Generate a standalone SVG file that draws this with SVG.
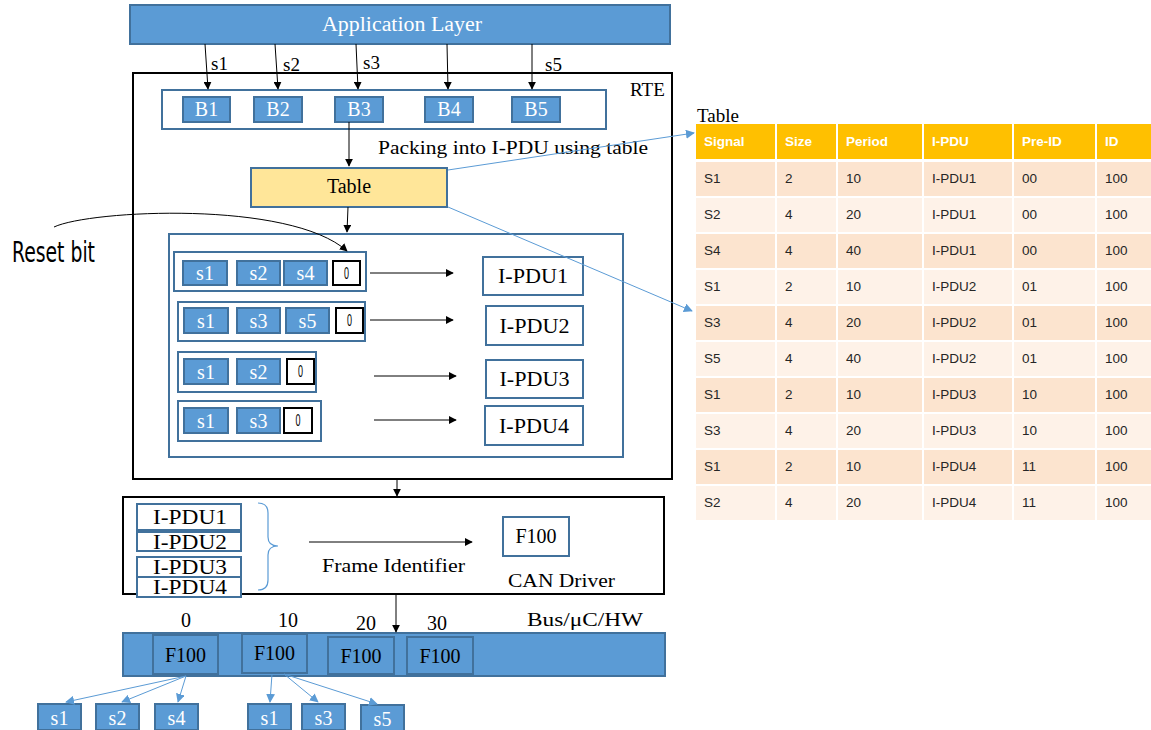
<svg xmlns="http://www.w3.org/2000/svg" width="1151" height="730" viewBox="0 0 1151 730">
  <defs>
    <marker id="ah" viewBox="0 0 10 10" refX="9" refY="5" markerWidth="8" markerHeight="8" markerUnits="userSpaceOnUse" orient="auto">
      <path d="M0,0 L10,5 L0,10 Z" fill="#000"/>
    </marker>
    <marker id="ahb" viewBox="0 0 10 10" refX="9" refY="5" markerWidth="9" markerHeight="9" markerUnits="userSpaceOnUse" orient="auto">
      <path d="M0,0 L10,5 L0,10 Z" fill="#5B9BD5"/>
    </marker>
    <style>
      .blue { fill: #5B9BD5; stroke: #41719C; stroke-width: 2; }
      .outline { fill: #fff; stroke: #41719C; stroke-width: 2; }
      .reset { fill: #fff; stroke: #000; stroke-width: 2; }
      .wt { font-family: "Liberation Serif", "DejaVu Serif", serif; font-size: 20px; fill: #fff; text-anchor: middle; }
      .bt { font-family: "Liberation Serif", "DejaVu Serif", serif; font-size: 20px; fill: #000; text-anchor: middle; }
      .lt { font-family: "Liberation Serif", "DejaVu Serif", serif; font-size: 19px; fill: #000; }
      .bit { font-family: "Liberation Sans", sans-serif; font-size: 17px; fill: #000; text-anchor: middle; }
      .conn { stroke: #000; stroke-width: 1; fill: none; }
      .bconn { stroke: #5B9BD5; stroke-width: 1; fill: none; }
      .th { font-family: "Liberation Sans", Arial, sans-serif; font-size: 13.5px; font-weight: bold; fill: #fff; }
      .td { font-family: "Liberation Sans", Arial, sans-serif; font-size: 13.5px; fill: #262626; }
      .hdr { fill: #FFC000; }
      .odd { fill: #FCE4CF; }
      .even { fill: #FEF2E8; }
    </style>
  </defs>

  <!-- Application layer -->
  <g id="app-layer">
    <rect x="130" y="5" width="540" height="39" class="blue"/>
    <text x="402" y="31" class="wt" font-size="21" textLength="160" lengthAdjust="spacingAndGlyphs">Application Layer</text>
  </g>

  <!-- RTE block -->
  <g id="rte">
    <rect x="133" y="73" width="539" height="406" fill="#fff" stroke="#000" stroke-width="2"/>
    <text x="630" y="96" class="lt">RTE</text>
  </g>

  <g id="buffers">
    <rect x="162" y="90" width="444" height="39" class="outline"/>
    <rect x="183" y="97" width="47" height="25" class="blue"/>
    <text x="206.5" y="116" class="wt">B1</text>
    <rect x="254" y="97" width="48" height="25" class="blue"/>
    <text x="278" y="116" class="wt">B2</text>
    <rect x="335" y="97" width="48" height="25" class="blue"/>
    <text x="359" y="116" class="wt">B3</text>
    <rect x="425" y="97" width="48" height="25" class="blue"/>
    <text x="449" y="116" class="wt">B4</text>
    <rect x="512" y="97" width="48" height="25" class="blue"/>
    <text x="536" y="116" class="wt">B5</text>
  </g>

  <g id="packing-label">
    <text x="378" y="154" class="lt" textLength="270" lengthAdjust="spacingAndGlyphs">Packing into I-PDU using table</text>
  </g>

  <g id="table-node">
    <rect x="251" y="168" width="196" height="39" fill="#FFE699" stroke="#41719C" stroke-width="2"/>
    <text x="349" y="193" class="bt" font-size="19">Table</text>
  </g>

  <!-- I-PDU packing area -->
  <g id="packing-area">
    <rect x="169" y="234" width="454" height="223" class="outline"/>
  </g>

  <g id="row1">
    <rect x="174" y="252" width="192" height="39" class="outline"/>
    <rect x="183" y="261" width="44" height="24" class="blue"/>
    <text x="205" y="280" class="wt">s1</text>
    <rect x="237" y="261" width="43" height="24" class="blue"/>
    <text x="258.5" y="280" class="wt">s2</text>
    <rect x="284" y="261" width="43" height="24" class="blue"/>
    <text x="305.5" y="280" class="wt">s4</text>
    <rect x="333" y="261" width="27" height="24" class="reset"/>
    <text x="346.5" y="279" class="bit" textLength="5" lengthAdjust="spacingAndGlyphs">0</text>
  </g>

  <g id="row2">
    <rect x="178" y="302" width="187" height="39" class="outline"/>
    <rect x="184" y="308" width="44" height="25" class="blue"/>
    <text x="206" y="328" class="wt">s1</text>
    <rect x="237" y="308" width="43" height="25" class="blue"/>
    <text x="258.5" y="328" class="wt">s3</text>
    <rect x="286" y="308" width="43" height="25" class="blue"/>
    <text x="307.5" y="328" class="wt">s5</text>
    <rect x="336" y="308" width="27" height="25" class="reset"/>
    <text x="349.5" y="326" class="bit" textLength="5" lengthAdjust="spacingAndGlyphs">0</text>
  </g>

  <g id="row3">
    <rect x="178" y="352" width="138" height="40" class="outline"/>
    <rect x="184" y="359" width="44" height="25" class="blue"/>
    <text x="206" y="379" class="wt">s1</text>
    <rect x="237" y="359" width="43" height="25" class="blue"/>
    <text x="258.5" y="379" class="wt">s2</text>
    <rect x="287" y="359" width="27" height="25" class="reset"/>
    <text x="300.5" y="377" class="bit" textLength="5" lengthAdjust="spacingAndGlyphs">0</text>
  </g>

  <g id="row4">
    <rect x="178" y="401" width="143" height="40" class="outline"/>
    <rect x="184" y="408" width="44" height="25" class="blue"/>
    <text x="206" y="428" class="wt">s1</text>
    <rect x="237" y="408" width="43" height="25" class="blue"/>
    <text x="258.5" y="428" class="wt">s3</text>
    <rect x="284" y="408" width="28" height="25" class="reset"/>
    <text x="298" y="426" class="bit" textLength="5" lengthAdjust="spacingAndGlyphs">0</text>
  </g>

  <g id="ipdu1">
    <rect x="483" y="257" width="100" height="38" class="outline"/>
    <text x="533" y="283" class="bt" font-size="22" textLength="70" lengthAdjust="spacingAndGlyphs">I-PDU1</text>
  </g>
  <g id="ipdu2">
    <rect x="486" y="306" width="97" height="39" class="outline"/>
    <text x="534.5" y="333" class="bt" font-size="22" textLength="70" lengthAdjust="spacingAndGlyphs">I-PDU2</text>
  </g>
  <g id="ipdu3">
    <rect x="486" y="360" width="97" height="38" class="outline"/>
    <text x="534.5" y="386" class="bt" font-size="22" textLength="70" lengthAdjust="spacingAndGlyphs">I-PDU3</text>
  </g>
  <g id="ipdu4">
    <rect x="485" y="406" width="98" height="39" class="outline"/>
    <text x="534" y="433" class="bt" font-size="22" textLength="70" lengthAdjust="spacingAndGlyphs">I-PDU4</text>
  </g>

  <g id="reset-bit-label">
    <text x="12" y="262" font-family="'Liberation Sans Narrow', 'DejaVu Sans Condensed', sans-serif" font-size="28" font-stretch="condensed" fill="#000" textLength="83" lengthAdjust="spacingAndGlyphs">Reset bit</text>
  </g>

  <!-- CAN driver -->
  <g id="can-driver">
    <rect x="123" y="497" width="541" height="97" fill="#fff" stroke="#000" stroke-width="2"/>
    <rect x="137" y="504" width="104" height="26" class="outline"/>
    <text x="190" y="524" class="bt" textLength="74" lengthAdjust="spacingAndGlyphs">I-PDU1</text>
    <rect x="137" y="532" width="104" height="19" class="outline"/>
    <text x="190" y="549" class="bt" textLength="74" lengthAdjust="spacingAndGlyphs">I-PDU2</text>
    <rect x="137" y="557" width="104" height="20" class="outline"/>
    <text x="190" y="574" class="bt" textLength="74" lengthAdjust="spacingAndGlyphs">I-PDU3</text>
    <rect x="137" y="577" width="104" height="20" class="outline"/>
    <text x="190" y="594" class="bt" textLength="74" lengthAdjust="spacingAndGlyphs">I-PDU4</text>
    <path d="M258,503 Q268,503 268,513 L268,537 Q268,546 278,546 Q268,546 268,555 L268,580 Q268,590 258,590" fill="none" stroke="#5B9BD5" stroke-width="1.2"/>
    <text x="322" y="572" class="lt" textLength="143" lengthAdjust="spacingAndGlyphs">Frame Identifier</text>
    <rect x="503" y="517" width="66" height="39" class="outline"/>
    <text x="536" y="543" class="bt">F100</text>
    <text x="508" y="587" class="lt" font-size="20" textLength="107" lengthAdjust="spacingAndGlyphs">CAN Driver</text>
  </g>

  <!-- Bus -->
  <g id="bus">
    <rect x="123" y="633" width="542" height="43" class="blue"/>
    <text x="186" y="627" class="bt" font-size="19">0</text>
    <text x="288" y="627" class="bt" font-size="19">10</text>
    <text x="366" y="630" class="bt" font-size="19">20</text>
    <text x="437" y="630" class="bt" font-size="19">30</text>
    <text x="527" y="626" class="lt" textLength="116" lengthAdjust="spacingAndGlyphs">Bus/μC/HW</text>
    <rect x="153" y="635" width="65" height="39" class="blue"/>
    <text x="185.5" y="662" class="bt">F100</text>
    <rect x="242" y="634" width="65" height="39" class="blue"/>
    <text x="274.5" y="660" class="bt">F100</text>
    <rect x="328" y="637" width="66" height="37" class="blue"/>
    <text x="361" y="663" class="bt">F100</text>
    <rect x="407" y="637" width="66" height="37" class="blue"/>
    <text x="440" y="663" class="bt">F100</text>
  </g>

  <g id="rx-signals">
    <rect x="38" y="704" width="43" height="26" class="blue"/>
    <text x="59.5" y="725" class="wt">s1</text>
    <rect x="96" y="704" width="43" height="26" class="blue"/>
    <text x="117.5" y="725" class="wt">s2</text>
    <rect x="155" y="704" width="43" height="26" class="blue"/>
    <text x="176.5" y="725" class="wt">s4</text>
    <rect x="248" y="704" width="43" height="26" class="blue"/>
    <text x="269.5" y="725" class="wt">s1</text>
    <rect x="302" y="704" width="43" height="26" class="blue"/>
    <text x="323.5" y="725" class="wt">s3</text>
    <rect x="361" y="705" width="43" height="26" class="blue"/>
    <text x="382.5" y="726" class="wt">s5</text>
  </g>

  <!-- Signal table -->
  <g id="signal-table">
    <text x="697" y="122" class="lt">Table</text>
    <rect x="696" y="124" width="455" height="35" class="hdr"/>
    <g>
      <rect x="696" y="162" width="455" height="34" class="odd"/>
      <rect x="696" y="198" width="455" height="34" class="even"/>
      <rect x="696" y="234" width="455" height="34" class="odd"/>
      <rect x="696" y="270" width="455" height="34" class="even"/>
      <rect x="696" y="306" width="455" height="34" class="odd"/>
      <rect x="696" y="342" width="455" height="34" class="even"/>
      <rect x="696" y="378" width="455" height="34" class="odd"/>
      <rect x="696" y="414" width="455" height="34" class="even"/>
      <rect x="696" y="450" width="455" height="34" class="odd"/>
      <rect x="696" y="486" width="455" height="34" class="even"/>
    </g>
    <!-- column separators -->
    <g stroke="#fff" stroke-width="2">
      <line x1="776" y1="124" x2="776" y2="520"/>
      <line x1="837" y1="124" x2="837" y2="520"/>
      <line x1="923" y1="124" x2="923" y2="520"/>
      <line x1="1013" y1="124" x2="1013" y2="520"/>
      <line x1="1096" y1="124" x2="1096" y2="520"/>
    </g>
    <g class="th">
      <text x="704" y="146">Signal</text>
      <text x="785" y="146">Size</text>
      <text x="846" y="146">Period</text>
      <text x="932" y="146">I-PDU</text>
      <text x="1022" y="146">Pre-ID</text>
      <text x="1105" y="146">ID</text>
    </g>
    <g class="td">
      <text x="704" y="183">S1</text><text x="785" y="183">2</text><text x="846" y="183">10</text><text x="932" y="183">I-PDU1</text><text x="1022" y="183">00</text><text x="1105" y="183">100</text>
      <text x="704" y="219">S2</text><text x="785" y="219">4</text><text x="846" y="219">20</text><text x="932" y="219">I-PDU1</text><text x="1022" y="219">00</text><text x="1105" y="219">100</text>
      <text x="704" y="255">S4</text><text x="785" y="255">4</text><text x="846" y="255">40</text><text x="932" y="255">I-PDU1</text><text x="1022" y="255">00</text><text x="1105" y="255">100</text>
      <text x="704" y="291">S1</text><text x="785" y="291">2</text><text x="846" y="291">10</text><text x="932" y="291">I-PDU2</text><text x="1022" y="291">01</text><text x="1105" y="291">100</text>
      <text x="704" y="327">S3</text><text x="785" y="327">4</text><text x="846" y="327">20</text><text x="932" y="327">I-PDU2</text><text x="1022" y="327">01</text><text x="1105" y="327">100</text>
      <text x="704" y="363">S5</text><text x="785" y="363">4</text><text x="846" y="363">40</text><text x="932" y="363">I-PDU2</text><text x="1022" y="363">01</text><text x="1105" y="363">100</text>
      <text x="704" y="399">S1</text><text x="785" y="399">2</text><text x="846" y="399">10</text><text x="932" y="399">I-PDU3</text><text x="1022" y="399">10</text><text x="1105" y="399">100</text>
      <text x="704" y="435">S3</text><text x="785" y="435">4</text><text x="846" y="435">20</text><text x="932" y="435">I-PDU3</text><text x="1022" y="435">10</text><text x="1105" y="435">100</text>
      <text x="704" y="471">S1</text><text x="785" y="471">2</text><text x="846" y="471">10</text><text x="932" y="471">I-PDU4</text><text x="1022" y="471">11</text><text x="1105" y="471">100</text>
      <text x="704" y="507">S2</text><text x="785" y="507">4</text><text x="846" y="507">20</text><text x="932" y="507">I-PDU4</text><text x="1022" y="507">11</text><text x="1105" y="507">100</text>
    </g>
  </g>

  <!-- Connectors -->
  <g id="connectors">
    <line x1="205" y1="44" x2="208" y2="89" class="conn" marker-end="url(#ah)"/>
    <line x1="275" y1="44" x2="278" y2="89" class="conn" marker-end="url(#ah)"/>
    <line x1="356" y1="44" x2="358" y2="89" class="conn" marker-end="url(#ah)"/>
    <line x1="447" y1="44" x2="448" y2="89" class="conn" marker-end="url(#ah)"/>
    <line x1="532" y1="44" x2="532" y2="89" class="conn" marker-end="url(#ah)"/>
    <text x="211" y="70" class="lt">s1</text>
    <text x="283" y="71" class="lt">s2</text>
    <text x="363" y="69" class="lt">s3</text>
    <text x="545" y="71" class="lt">s5</text>

    <line x1="349" y1="122" x2="349" y2="166" class="conn" marker-end="url(#ah)"/>
    <line x1="348" y1="207" x2="347" y2="232" class="conn" marker-end="url(#ah)"/>

    <path d="M54,227 C90,210 290,200 347,251" class="conn" marker-end="url(#ah)"/>

    <line x1="370" y1="273" x2="453" y2="273" class="conn" marker-end="url(#ah)"/>
    <line x1="370" y1="320" x2="453" y2="320" class="conn" marker-end="url(#ah)"/>
    <line x1="374" y1="376" x2="456" y2="376" class="conn" marker-end="url(#ah)"/>
    <line x1="374" y1="420" x2="456" y2="420" class="conn" marker-end="url(#ah)"/>

    <line x1="397" y1="479" x2="397" y2="496" class="conn" marker-end="url(#ah)"/>
    <line x1="309" y1="542" x2="472" y2="542" class="conn" marker-end="url(#ah)"/>
    <line x1="396" y1="594" x2="396" y2="632" class="conn" marker-end="url(#ah)"/>

    <line x1="448" y1="170" x2="694" y2="133" class="bconn" marker-end="url(#ahb)"/>
    <line x1="448" y1="207" x2="692" y2="311" class="bconn" marker-end="url(#ahb)"/>

    <line x1="186" y1="676" x2="66" y2="702" class="bconn" marker-end="url(#ahb)"/>
    <line x1="186" y1="676" x2="122" y2="702" class="bconn" marker-end="url(#ahb)"/>
    <line x1="186" y1="676" x2="178" y2="702" class="bconn" marker-end="url(#ahb)"/>
    <line x1="272" y1="674" x2="270" y2="702" class="bconn" marker-end="url(#ahb)"/>
    <line x1="284" y1="674" x2="318" y2="702" class="bconn" marker-end="url(#ahb)"/>
    <line x1="284" y1="674" x2="377" y2="704" class="bconn" marker-end="url(#ahb)"/>
  </g>
</svg>
